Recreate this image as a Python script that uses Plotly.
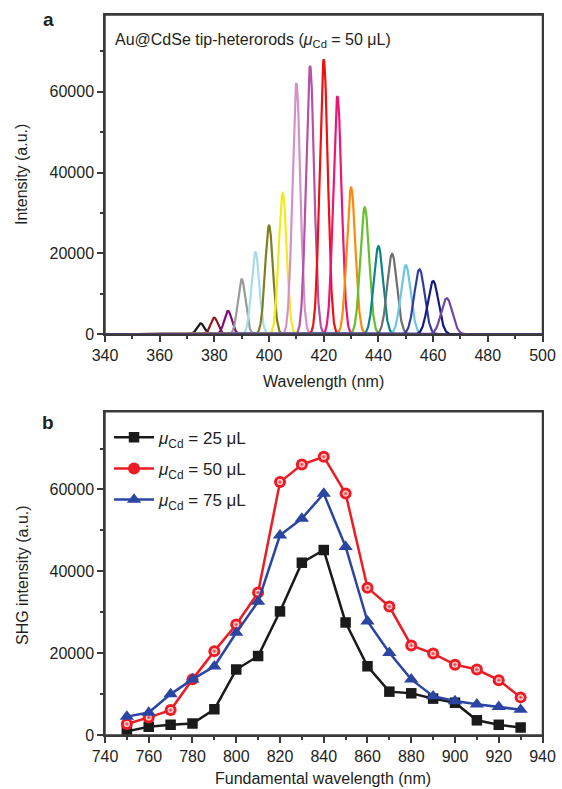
import numpy as np
import plotly.graph_objects as go

# ---- Panel a: SHG spectra (peak centre, peak height, FWHM) ----
peak_centers = [375, 380, 385, 390, 395, 400, 405, 410, 415, 420,
                425, 430, 435, 440, 445, 450, 455, 460, 465]
peak_heights = [2700, 4100, 5800, 13600, 20400, 26900, 34900, 62100, 66400, 68000,
                58900, 36300, 31400, 21800, 19900, 17100, 16100, 13200, 8900]
peak_fwhm = [3.2, 3.2, 3.3, 3.3, 3.4, 3.4, 3.4, 3.4, 3.5, 3.5,
             3.6, 3.7, 3.8, 4.0, 4.2, 4.3, 4.5, 4.6, 4.8]
peak_colors = ["#1a1a1a", "#8b1a1a", "#7d0f7d", "#9a9a9a", "#a8dce8", "#7f7f1f",
               "#f2ea1c", "#d391c8", "#b551a8", "#f01010", "#ee1478", "#ff8a0a",
               "#66bf2e", "#0b8585", "#6e6e6e", "#6cc6e0", "#2f3ea0", "#141a80", "#7048a8"]

# ---- Panel b: SHG intensity vs fundamental wavelength ----
fund_wl = [750, 760, 770, 780, 790, 800, 810, 820, 830, 840,
           850, 860, 870, 880, 890, 900, 910, 920, 930]
shg_25 = [900, 2000, 2500, 2800, 6300, 16000, 19300, 30200, 42100, 45200,
          27500, 16800, 10600, 10200, 8900, 7900, 3600, 2500, 1850]
shg_50 = [2700, 4300, 6100, 13600, 20500, 27000, 34800, 61800, 66100, 68000,
          59000, 36000, 31400, 21900, 19900, 17200, 16000, 13400, 9200]
shg_75 = [4500, 5500, 10000, 13600, 16800, 25000, 32600, 48800, 52900, 59000,
          46000, 27800, 20100, 13600, 9500, 8300, 7500, 6900, 6200]
series_names = ["<i>μ</i><sub>Cd</sub> = 25 μL",
                "<i>μ</i><sub>Cd</sub> = 50 μL",
                "<i>μ</i><sub>Cd</sub> = 75 μL"]

FONT = "Liberation Sans, Arial, sans-serif"
TXT = "#231f20"
AX = "#3a3a3a"
RED = "#ec1c24"

fig = go.Figure()

wl = np.arange(340, 500.01, 0.1)
for c, h, w, col in zip(peak_centers, peak_heights, peak_fwhm, peak_colors):
    s = w / 2.3548
    fig.add_trace(go.Scatter(x=wl, y=h * np.exp(-(wl - c) ** 2 / (2 * s * s)),
                             mode="lines", line=dict(color=col, width=2.2),
                             xaxis="x", yaxis="y", showlegend=False, hoverinfo="skip"))

fig.add_trace(go.Scatter(x=fund_wl, y=shg_25, name=series_names[0], mode="lines+markers",
                         line=dict(color="#1a1a1a", width=2.5),
                         marker=dict(symbol="square", size=10.5, color="#1a1a1a"),
                         xaxis="x2", yaxis="y2", legendgroup="g1"))
fig.add_trace(go.Scatter(x=fund_wl, y=shg_50, name=series_names[1], mode="lines+markers",
                         line=dict(color=RED, width=2.5),
                         marker=dict(symbol="circle", size=12, color=RED, line=dict(width=0)),
                         xaxis="x2", yaxis="y2", legendgroup="g2"))
# specular highlight on the red spheres
fig.add_trace(go.Scatter(x=fund_wl, y=shg_50, mode="markers", showlegend=False,
                         marker=dict(symbol="circle", size=6, color="#ffffff",
                                     gradient=dict(type="radial", color=RED),
                                     line=dict(width=0)),
                         xaxis="x2", yaxis="y2", legendgroup="g2", hoverinfo="skip"))
fig.add_trace(go.Scatter(x=fund_wl, y=shg_75, name=series_names[2], mode="lines+markers",
                         line=dict(color="#2b45a3", width=2.5),
                         marker=dict(symbol="triangle-up", size=12.5, color="#2b45a3"),
                         xaxis="x2", yaxis="y2", legendgroup="g3"))

axis_common = dict(showline=True, linecolor=AX, linewidth=1.5, mirror=True,
                   ticks="outside", ticklen=6, tickwidth=1.5, tickcolor=AX,
                   showgrid=False, zeroline=False, tickformat="d", automargin=False,
                   tickfont=dict(family=FONT, size=16, color=TXT))
minor_common = dict(ticklen=3, tickwidth=1.5, tickcolor=AX, ticks="outside", showgrid=False)

fig.update_layout(
    template="none",
    width=562, height=789,
    margin=dict(l=0, r=0, t=0, b=0, autoexpand=False),
    paper_bgcolor="white", plot_bgcolor="white",
    font=dict(family=FONT, color=TXT),
    xaxis=dict(domain=[0.1868, 0.9653], range=[340, 500], tickvals=list(range(340, 501, 20)),
               minor=dict(tickvals=list(range(350, 500, 20)), **minor_common),
               anchor="y", **axis_common),
    yaxis=dict(domain=[0.5763, 0.981], range=[0, 79000], tickvals=[0, 20000, 40000, 60000],
               minor=dict(tickvals=[10000, 30000, 50000, 70000], **minor_common),
               anchor="x", **axis_common),
    xaxis2=dict(domain=[0.1868, 0.9653], range=[740, 940], tickvals=list(range(740, 941, 20)),
                minor=dict(tickvals=list(range(750, 940, 20)), **minor_common),
                anchor="y2", **axis_common),
    yaxis2=dict(domain=[0.0684, 0.4782], range=[0, 79000], tickvals=[0, 20000, 40000, 60000],
                minor=dict(tickvals=[10000, 30000, 50000, 70000], **minor_common),
                anchor="x2", **axis_common),
    legend=dict(x=0.194, y=0.468, xanchor="left", yanchor="top",
                font=dict(family=FONT, size=17, color=TXT),
                bgcolor="rgba(0,0,0,0)", borderwidth=0, tracegroupgap=6, itemwidth=40),
    showlegend=True,
)

# explicit frames around both plot areas
for xr, yr in (("x domain", "y domain"), ("x2 domain", "y2 domain")):
    fig.add_shape(type="rect", xref=xr, yref=yr, x0=0, x1=1, y0=0, y1=1,
                  line=dict(color=AX, width=1.5), fillcolor="rgba(0,0,0,0)", layer="above")

ann = [
    dict(text="<b>a</b>", x=48 / 562, y=1 - 20 / 789, font=dict(size=19)),
    dict(text="<b>b</b>", x=48 / 562, y=1 - 422 / 789, font=dict(size=19)),
    dict(text="Au@CdSe tip-heterorods (<i>μ</i><sub>Cd</sub> = 50 μL)",
         x=113 / 562, y=1 - 41 / 789, xanchor="left", font=dict(size=16)),
    dict(text="Wavelength (nm)", x=323 / 562, y=1 - 381 / 789, font=dict(size=16)),
    dict(text="Fundamental wavelength (nm)", x=323 / 562, y=1 - 778 / 789, font=dict(size=16)),
    dict(text="Intensity (a.u.)", x=22 / 562, y=1 - 175 / 789, textangle=-90, font=dict(size=16)),
    dict(text="SHG intensity (a.u.)", x=22 / 562, y=1 - 575 / 789, textangle=-90, font=dict(size=16)),
]
for a in ann:
    a.setdefault("xanchor", "center")
    a.update(xref="paper", yref="paper", yanchor="middle", showarrow=False)
    a["font"] = dict(family=FONT, color=TXT, **a["font"])
    fig.add_annotation(**a)

fig.write_html("out.html")
